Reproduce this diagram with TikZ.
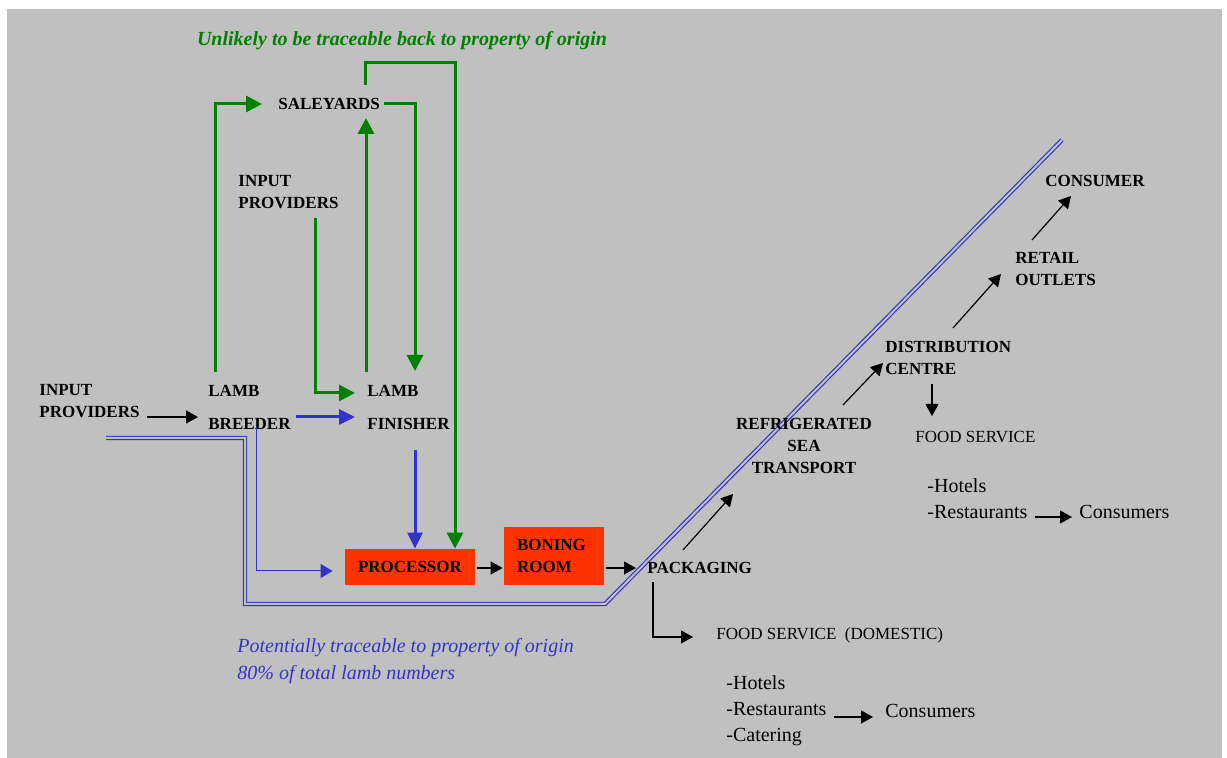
\documentclass[tikz,border=0pt]{standalone}
\usepackage{fontspec}
\setmainfont{Liberation Serif}
\usetikzlibrary{arrows.meta,positioning,calc}

\definecolor{greybg}{HTML}{C0C0C0}
\definecolor{salegreen}{HTML}{008000}
\definecolor{traceblue}{HTML}{3333CC}
\definecolor{procred}{HTML}{FF3300}

\begin{document}
\begin{tikzpicture}[
    x=0.5pt, y=-0.5pt,
    stage/.style={inner sep=0pt, align=left, font=\bfseries\fontsize{8.5}{11}\selectfont},
    plain/.style={inner sep=0pt, align=left, font=\fontsize{10}{13}\selectfont},
    plant/.style={rectangle, fill=procred, inner sep=0pt, font=\bfseries\fontsize{8.5}{11}\selectfont},
    flow/.style={line width=0.6pt, -{Triangle[length=6pt,width=6.5pt]}},
    sale/.style={color=salegreen, line width=1.5pt, -{Triangle[length=8pt,width=8pt]}},
    trace/.style={color=traceblue, line width=1.5pt, -{Triangle[length=8pt,width=7.5pt]}},
    tracethin/.style={color=traceblue, line width=0.5pt, -{Triangle[length=6pt,width=7pt]}}
]

\useasboundingbox (0,0) rectangle (1227,758);
\fill[greybg] (7,9) rectangle (1222,758);

% traceability line
\draw[traceblue, double=greybg, double distance=1pt, line width=0.6pt]
    (106,438) -- (245,438) -- (245,604) -- (605,604) -- (1062,140);

% farm end
\node[stage, anchor=west] (inputleft) at (39,401.5) {INPUT\\PROVIDERS};
\node[stage, anchor=west] (breeder) at (208,407.5) {LAMB\\[5.5pt]BREEDER};
\node[stage, anchor=west] (finisher) at (367,407.5) {LAMB\\[5.5pt]FINISHER};
\node[stage, anchor=west] (inputtop) at (238,192) {INPUT\\PROVIDERS};
\node[stage, anchor=west] (saleyards) at (278,104) {SALEYARDS};

% processing
\node[plant, minimum width=65pt, minimum height=18pt] (processor) at (410,567) {PROCESSOR};
\node[plant, inner xsep=6.5pt, text width=37pt, align=left, minimum height=29pt] (boning) at (554,556) {BONING\\ROOM};
\node[stage, anchor=west] (packaging) at (647,568) {PACKAGING};

% market end
\node[stage, align=center] (refrig) at (804,446) {REFRIGERATED\\SEA\\TRANSPORT};
\node[stage, anchor=west] (distribution) at (885,358) {DISTRIBUTION\\CENTRE};
\node[stage, anchor=west] (retail) at (1015,269) {RETAIL\\OUTLETS};
\node[stage, anchor=west] (consumer) at (1045,181) {CONSUMER};
\node[plain, anchor=west, font=\fontsize{8.5}{11}\selectfont] (foodsvc) at (915,437) {FOOD SERVICE};
\node[plain, anchor=west] (hotels) at (927,499) {-Hotels\\-Restaurants};
\node[plain, anchor=west] (consumersR) at (1079,512) {Consumers};
\node[plain, anchor=west, font=\fontsize{8.5}{11}\selectfont] (foodsvcdom) at (716,635) {FOOD SERVICE\ \ (DOMESTIC)};
\node[plain, anchor=west] (hotelsdom) at (726,711) {-Hotels\\-Restaurants\\-Catering};
\node[plain, anchor=west] (consumersD) at (885,711) {Consumers};

% notes
\node[inner sep=0pt, text=salegreen, font=\bfseries\itshape\fontsize{10}{12}\selectfont] (unlikely) at (402,41) {Unlikely to be traceable back to property of origin};
\node[plain, anchor=west, text=traceblue, font=\itshape\fontsize{10}{13.5}\selectfont] (potential) at (237,661.5) {Potentially traceable to property of origin\\80\% of total lamb numbers};

% green routes
\draw[sale] ([shift={(7,-35.5)}]breeder.west) |- ([shift={(-16,0)}]saleyards.west);
\draw[sale] ([shift={(4,0)}]saleyards.east) -| ([shift={(48,-36.5)}]finisher.west);
\draw[sale] ([shift={(-1,-35.5)}]finisher.west) -- ([shift={(88,14)}]saleyards.west);
\draw[sale] ([shift={(87,-19)}]saleyards.west) -- ++(0,-22) -| ([shift={(45,0)}]processor.north);
\draw[sale] ([shift={(77,26)}]inputtop.west) |- ([shift={(-12,-14.5)}]finisher.west);

% blue routes
\draw[trace] ([shift={(5,9.5)}]breeder.east) -- ([shift={(-12,9.5)}]finisher.west);
\draw[trace] ([shift={(48,42.5)}]finisher.west) -- ([shift={(5,0)}]processor.north);
\draw[tracethin] ([shift={(48,19.5)}]breeder.west) |- ([shift={(-12,4)}]processor.west);

% black routes
\draw[flow] ([shift={(7,15.5)}]inputleft.east) -- ([shift={(-10,9.5)}]breeder.west);
\draw[flow] ([shift={(2,1)}]processor.east) -- ([shift={(-1,12)}]boning.west);
\draw[flow] ([shift={(2,12)}]boning.east) -- ([shift={(-11,0)}]packaging.west);
\draw[flow] ([shift={(36,-18)}]packaging.west) -- ([shift={(-71,48)}]refrig.center);
\draw[flow] ([shift={(39,-41)}]refrig.center) -- ([shift={(-2,5)}]distribution.west);
\draw[flow] ([shift={(47,26)}]distribution.west) -- ([shift={(17,-21)}]foodsvc.west);
\draw[flow] ([shift={(68,-30)}]distribution.west) -- ([shift={(-14,5)}]retail.west);
\draw[flow] ([shift={(17,-29)}]retail.west) -- ([shift={(26,15)}]consumer.west);
\draw[flow] ([shift={(7,18)}]hotels.east) -- ([shift={(-7,5)}]consumersR.west);
\draw[flow] ([shift={(7,6)}]hotelsdom.east) -- ([shift={(-12,6)}]consumersD.west);
\draw[flow] ([shift={(6,14)}]packaging.west) |- ([shift={(-23,2)}]foodsvcdom.west);

\end{tikzpicture}
\end{document}
